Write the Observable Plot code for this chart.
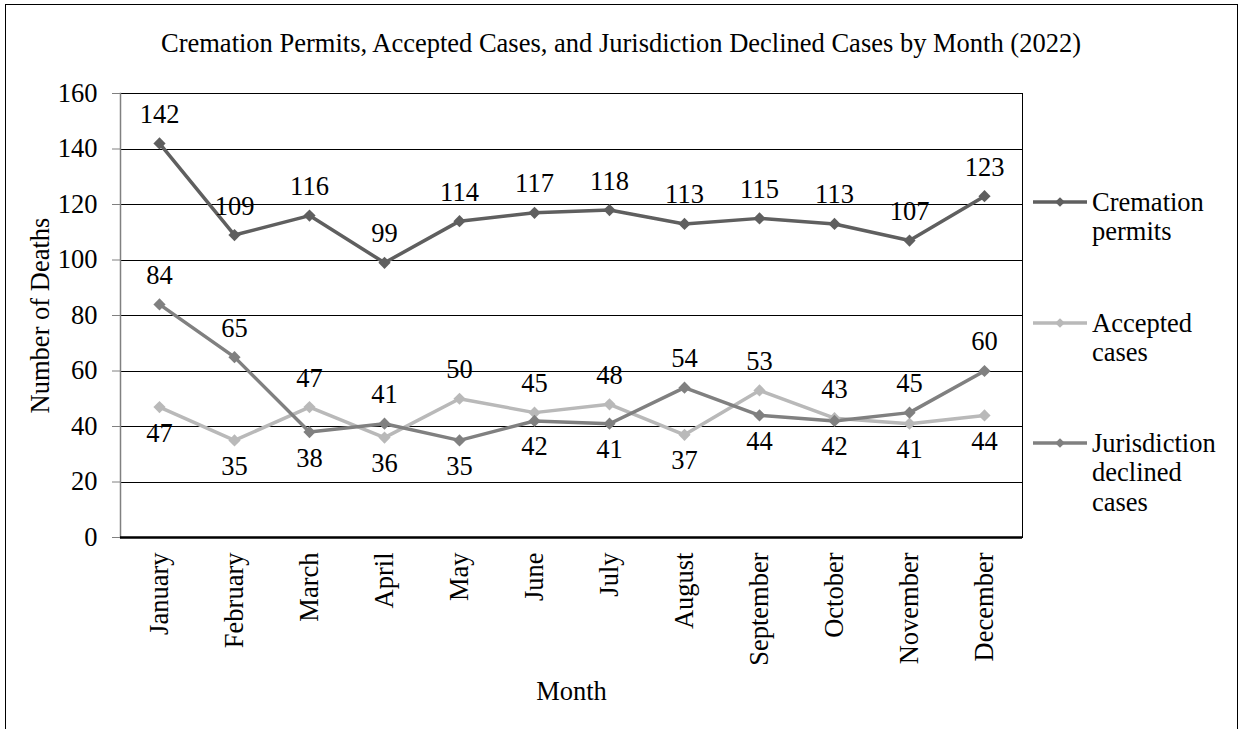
<!DOCTYPE html>
<html><head><meta charset="utf-8">
<script src="https://cdn.jsdelivr.net/npm/d3@7"></script>
<script src="https://cdn.jsdelivr.net/npm/@observablehq/plot@0.6"></script>
<style>
body{margin:0;background:#fff;}
#wrap{position:relative;width:1245px;height:729px;overflow:hidden;}
#border{position:absolute;left:5px;top:4px;width:1233px;height:760px;border:1.5px solid #000;box-sizing:border-box;pointer-events:none;}
svg, svg text{font-family:"Liberation Serif","Times New Roman",serif !important;}
</style></head><body><div id="wrap"><div id="chart"></div><div id="border"></div></div>
<script>
const titleText = "Cremation Permits, Accepted Cases, and Jurisdiction Declined Cases by Month (2022)";
const months = ["January","February","March","April","May","June","July","August","September","October","November","December"];
const cremation = [142,109,116,99,114,117,118,113,115,113,107,123];
const accepted = [47,35,47,36,50,45,48,37,53,43,41,44];
const declined = [84,65,38,41,35,42,41,54,44,42,45,60];
const seriesNames = ["Cremation permits","Accepted cases","Jurisdiction declined cases"];
const legendLines = [["Cremation","permits"],["Accepted","cases"],["Jurisdiction","declined","cases"]];
const seriesColors = ["#5f5f5f","#b9b9b9","#808080"];
const yTicks = [0,20,40,60,80,100,120,140,160];

const data = months.flatMap((m,i)=>[
  {month:m, value:cremation[i], series:seriesNames[0], above:true},
  {month:m, value:accepted[i], series:seriesNames[1], above:accepted[i] > declined[i]},
  {month:m, value:declined[i], series:seriesNames[2], above:declined[i] >= accepted[i]}
]);

const FS = 26.5;
const chart = Plot.plot({
  width:1245, height:729,
  marginLeft:120, marginRight:223, marginTop:93, marginBottom:192,
  style:{fontFamily:"'Liberation Serif', 'Times New Roman', serif", fontSize:FS+"px", color:"#000", background:"transparent"},
  x:{type:"point", domain:months, padding:0.5},
  y:{domain:[0,160]},
  color:{domain:seriesNames, range:seriesColors},
  marks:[
    Plot.gridY(yTicks, {stroke:"#000", strokeOpacity:1, strokeWidth:1, shapeRendering:"crispEdges"}),
    Plot.frame({stroke:"#000", strokeWidth:1, shapeRendering:"crispEdges"}),
    Plot.frame({anchor:"left", stroke:"#808080", strokeWidth:1.5}),
    Plot.ruleY([0], {stroke:"#000", strokeWidth:2.5}),
    Plot.axisY(yTicks, {tickSize:8, tickPadding:15, stroke:"#808080", fill:"#000", fontSize:FS,
      label:"Number of Deaths", labelAnchor:"center", labelOffset:90, labelArrow:"none"}),
    Plot.axisX({tickRotate:-90, tickSize:0, tickPadding:15, fill:"#000", fontSize:FS,
      label:"Month", labelAnchor:"center", labelOffset:162, labelArrow:"none"}),
    Plot.line(data, {x:"month", y:"value", z:"series", stroke:"series", strokeWidth:3.5}),
    Plot.dot(data, {x:"month", y:"value", fill:"series", symbol:"diamond2", r:5.5, stroke:null}),
    Plot.text(data.filter(d=>d.above), {x:"month", y:"value", text:"value", dy:-29, fill:"#000", fontSize:FS}),
    Plot.text(data.filter(d=>!d.above), {x:"month", y:"value", text:"value", dy:26, fill:"#000", fontSize:FS})
  ]
});
document.getElementById("chart").appendChild(chart);

const svg = d3.select(chart);
svg.append("text").attr("x",621).attr("y",52).attr("text-anchor","middle")
  .attr("font-size",FS).attr("fill","#000").text(titleText);

const legendY = [202, 323, 443];
const lg = svg.append("g").attr("font-size",FS).attr("fill","#000").attr("text-anchor","start");
seriesNames.forEach((s,i)=>{
  const y = legendY[i];
  lg.append("line").attr("x1",1033).attr("x2",1087).attr("y1",y).attr("y2",y)
    .attr("stroke",seriesColors[i]).attr("stroke-width",3.5);
  lg.append("path").attr("d",d3.symbol(d3.symbolDiamond2, 60)()).attr("transform",`translate(1060,${y})`)
    .attr("fill",seriesColors[i]);
  const t = lg.append("text").attr("x",1092).attr("y",y);
  legendLines[i].forEach((w,j)=>{
    t.append("tspan").attr("x",1092).attr("dy", j===0 ? "0.35em" : "1.1em").text(w);
  });
});
</script></body></html>
